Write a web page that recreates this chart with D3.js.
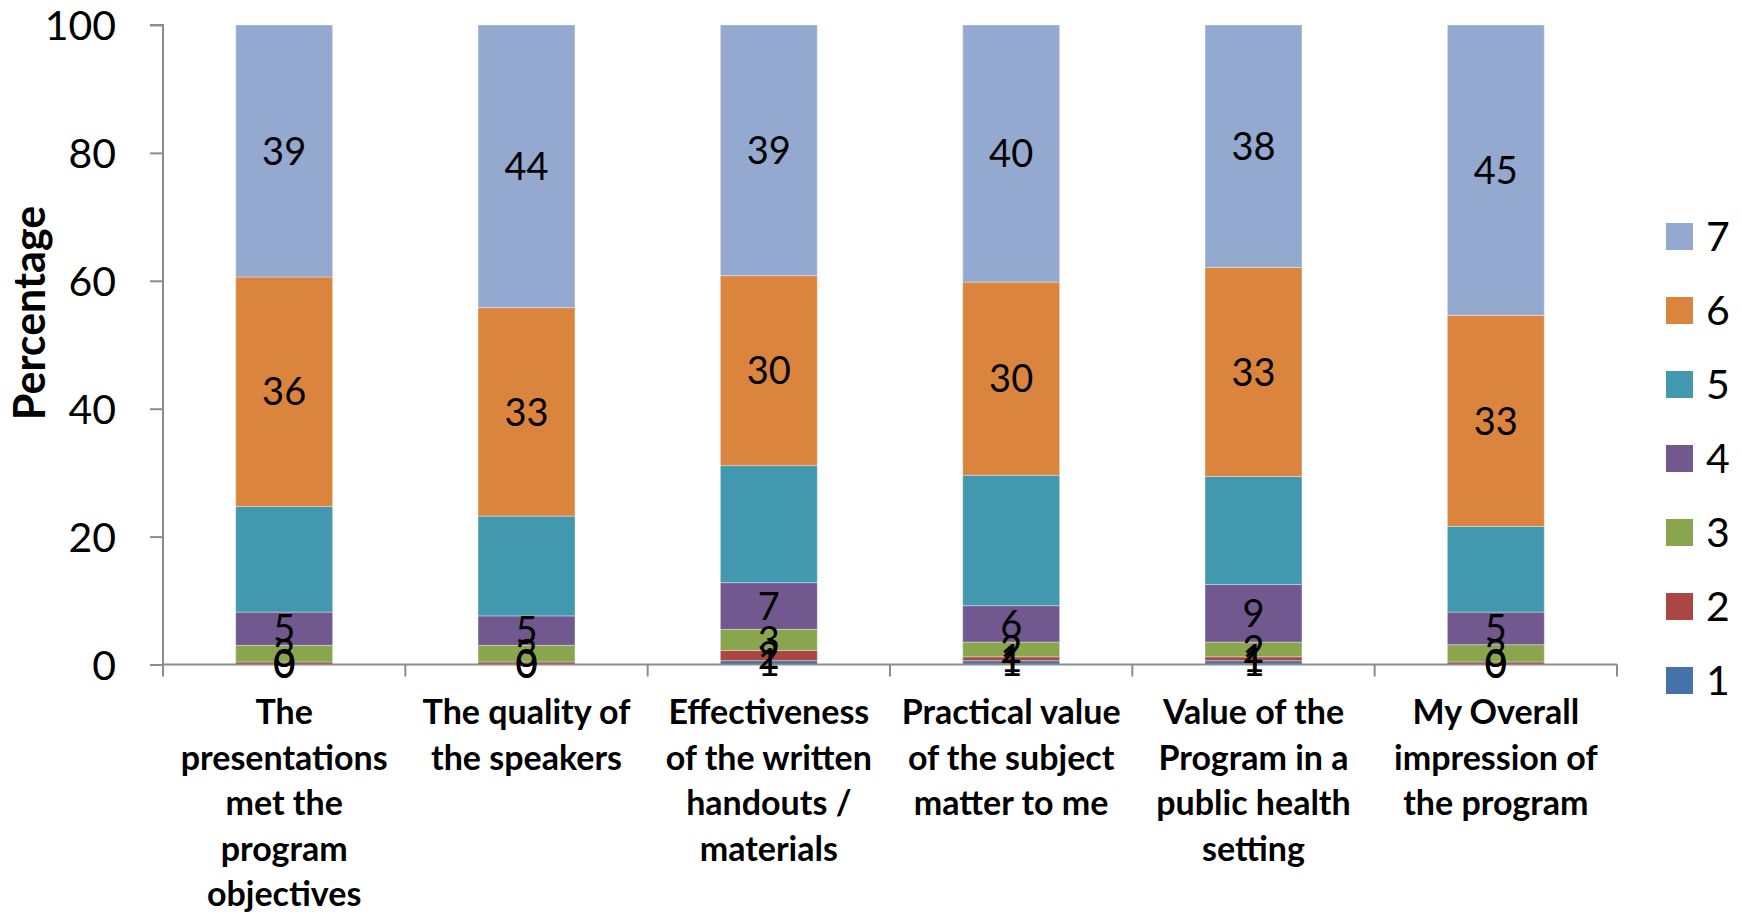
<!DOCTYPE html>
<html>
<head>
<meta charset="utf-8">
<script src="https://cdn.jsdelivr.net/npm/d3@7"></script>
<style>
  html, body { margin: 0; padding: 0; background: #fff; }
  svg { display: block; font-family: Lato, "Open Sans", sans-serif; }
</style>
</head>
<body>
<svg id="chart" width="1742" height="914"></svg>
<script>
// Survey items (line breaks mark how each axis label wraps)
const categories = [
  "The\npresentations\nmet the\nprogram\nobjectives",
  "The quality of\nthe speakers",
  "Effectiveness\nof the written\nhandouts /\nmaterials",
  "Practical value\nof the subject\nmatter to me",
  "Value of the\nProgram in a\npublic health\nsetting",
  "My Overall\nimpression of\nthe program"
];

// Rating levels, stacked bottom (1) to top (7)
const ratings = ["1", "2", "3", "4", "5", "6", "7"];

// Percentage of respondents giving each rating, one array per rating
const rating1 = [0.0, 0.0, 0.6, 0.6, 0.6, 0.0];
const rating2 = [0.4, 0.4, 1.6, 0.6, 0.6, 0.4];
const rating3 = [2.6, 2.6, 3.3, 2.3, 2.3, 2.7];
const rating4 = [5.2, 4.6, 7.3, 5.7, 9.0, 5.1];
const rating5 = [16.5, 15.6, 18.3, 20.4, 16.9, 13.4];
const rating6 = [35.9, 32.6, 29.7, 30.2, 32.7, 33.0];
const rating7 = [39.4, 44.2, 39.2, 40.2, 37.9, 45.4];

const yTicks = [0, 20, 40, 60, 80, 100];
const colors = ["#4572A7", "#AA4643", "#89A54E", "#71588F", "#4198AF", "#DB843D", "#93A9CF"];
const labelledRatings = ["1", "2", "3", "4", "6", "7"];

const seriesValues = [rating1, rating2, rating3, rating4, rating5, rating6, rating7];
const rows = categories.map((c, i) => {
  const r = { category: c };
  ratings.forEach((k, j) => { r[k] = seriesValues[j][i]; });
  return r;
});

const svg = d3.select("#chart");
const margin = { left: 163, right: 125, top: 25, bottom: 250 };
const W = 1742, H = 914;

const x = d3.scaleBand()
  .domain(categories)
  .range([margin.left, W - margin.right])
  .paddingInner(0.6)
  .paddingOuter(0.3);

const y = d3.scaleLinear()
  .domain([0, 100])
  .range([H - margin.bottom + 0.5, margin.top]);

const color = d3.scaleOrdinal().domain(ratings).range(colors);

const stacked = d3.stack().keys(ratings)(rows);

// Stacked segments
const layers = svg.append("g")
  .selectAll("g")
  .data(stacked)
  .join("g")
  .attr("fill", d => color(d.key));

layers.selectAll("rect")
  .data(d => d)
  .join("rect")
  .attr("x", d => x(d.data.category))
  .attr("width", x.bandwidth())
  .attr("y", d => y(d[1]))
  .attr("height", d => Math.max(0, y(d[0]) - y(d[1])))
  .attr("stroke", "rgba(255,255,255,0.35)")
  .attr("stroke-width", 1);

// Axes
const axisColor = "#8c8c8c";
const yAxis = svg.append("g")
  .attr("transform", `translate(${margin.left},0)`)
  .call(d3.axisLeft(y).tickValues(yTicks).tickSize(13).tickPadding(34).tickFormat(d3.format("d")));
yAxis.select(".domain").attr("stroke", axisColor).attr("stroke-width", 2)
  .attr("d", `M-13,${y(100)}H0V${y(0) + 12}`);
yAxis.selectAll(".tick line").attr("stroke", axisColor).attr("stroke-width", 2);
yAxis.selectAll(".tick text")
  .attr("font-family", "Lato, sans-serif")
  .attr("font-size", 41)
  .attr("fill", "#000")
  .attr("dy", "0.36em");

// Category axis: ticks sit on the boundaries between categories
const step = x.step();
const boundaries = d3.range(categories.length + 1).map(i => margin.left + i * step);
const xAxisG = svg.append("g");
xAxisG.append("line")
  .attr("x1", margin.left).attr("x2", W - margin.right)
  .attr("y1", y(0)).attr("y2", y(0))
  .attr("stroke", axisColor).attr("stroke-width", 2);
xAxisG.selectAll("line.tick")
  .data(boundaries.slice(1))
  .join("line")
  .attr("class", "tick")
  .attr("x1", d => d).attr("x2", d => d)
  .attr("y1", y(0)).attr("y2", y(0) + 12)
  .attr("stroke", axisColor).attr("stroke-width", 2);

// Category labels
const catLabels = svg.append("g")
  .selectAll("text")
  .data(categories)
  .join("text")
  .attr("x", d => x(d) + x.bandwidth() / 2)
  .attr("y", 724)
  .attr("text-anchor", "middle")
  .attr("font-family", "Lato, sans-serif")
  .attr("font-weight", "bold")
  .attr("font-size", 34)
  .attr("fill", "#000");
catLabels.selectAll("tspan")
  .data(d => d.split("\n"))
  .join("tspan")
  .attr("x", function () { return d3.select(this.parentNode).attr("x"); })
  .attr("dy", (d, i) => i === 0 ? 0 : 45.5)
  .text(d => d);

// Y axis title
svg.append("text")
  .attr("transform", `translate(45,313) rotate(-90)`)
  .attr("text-anchor", "middle")
  .attr("font-family", "Lato, sans-serif")
  .attr("font-weight", "bold")
  .attr("font-size", 43)
  .attr("fill", "#000")
  .text("Percentage");

// Value labels centred in each segment
const fmt = d3.format(".0f");
svg.append("g")
  .selectAll("g")
  .data(stacked.filter(s => labelledRatings.includes(s.key)))
  .join("g")
  .selectAll("text")
  .data(d => d)
  .join("text")
  .attr("x", d => x(d.data.category) + x.bandwidth() / 2)
  .attr("y", d => y((d[0] + d[1]) / 2))
  .attr("dy", "0.36em")
  .attr("text-anchor", "middle")
  .attr("font-family", "Lato, sans-serif")
  .attr("font-size", 38)
  .attr("fill", "#000")
  .text(d => fmt(d[1] - d[0]));

// Legend, rating 7 at the top
const legend = svg.append("g")
  .selectAll("g")
  .data(ratings.slice().reverse())
  .join("g")
  .attr("transform", (d, i) => `translate(1666,${223 + i * 74})`);
legend.append("rect")
  .attr("width", 27).attr("height", 27)
  .attr("fill", d => color(d));
legend.append("text")
  .attr("x", 40).attr("y", 13.5)
  .attr("dy", "0.36em")
  .attr("font-family", "Lato, sans-serif")
  .attr("font-size", 41)
  .attr("fill", "#000")
  .text(d => d);
</script>
</body>
</html>
